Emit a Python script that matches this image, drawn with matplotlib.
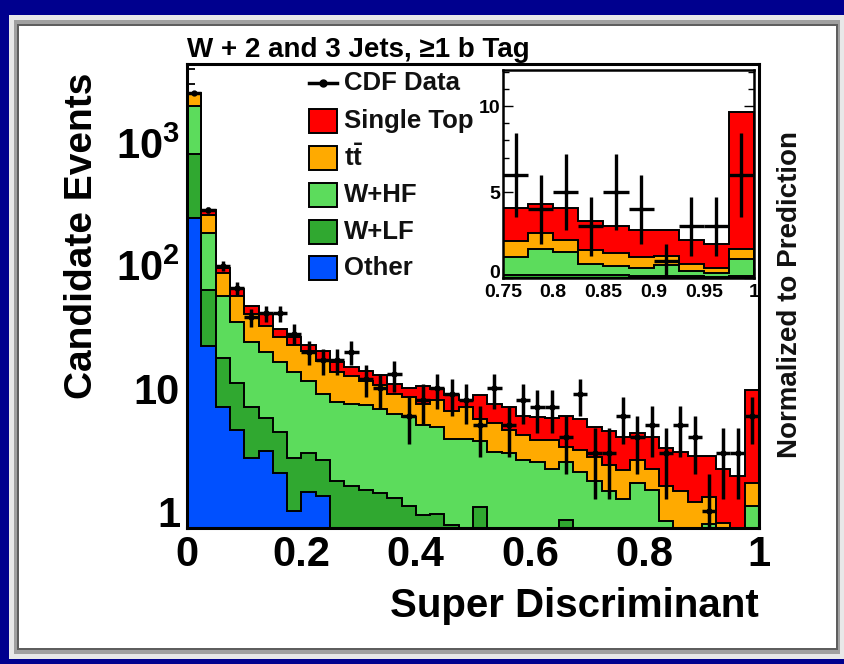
import numpy as np
import matplotlib
matplotlib.use("Agg")
import matplotlib.pyplot as plt
from matplotlib import font_manager
from matplotlib.patches import Rectangle
from matplotlib.lines import Line2D
from matplotlib.ticker import FixedLocator, FixedFormatter, NullFormatter

installed = {f.name for f in font_manager.fontManager.ttflist}
NARROW = 'Liberation Sans Narrow' if 'Liberation Sans Narrow' in installed else 'Liberation Sans'

plt.rcParams['font.family'] = ['Liberation Sans', 'DejaVu Sans']
plt.rcParams['font.weight'] = 'bold'
plt.rcParams['mathtext.fontset'] = 'custom'
plt.rcParams['mathtext.rm'] = NARROW + ':bold'
plt.rcParams['mathtext.bf'] = NARROW + ':bold'
plt.rcParams['mathtext.it'] = NARROW + ':bold'

# 40 bins of the super discriminant, width 0.025
bin_edges = np.linspace(0.0, 1.0, 41)

other = [246, 22, 7.0, 4.6, 2.7, 3.1, 2.05, 1.0, 1.43, 1.32,
         0, 0, 0, 0, 0, 0, 0, 0, 0, 0,
         0, 0, 0, 0, 0, 0, 0, 0, 0, 0,
         0, 0, 0, 0, 0, 0, 0, 0, 0, 0]
w_lf = [568, 41.7, 10.6, 6.4, 4.3, 2.7, 2.35, 1.7, 1.53, 1.28,
        1.75, 1.6, 1.5, 1.4, 1.28, 1.1, 0.93, 0.95, 0.77, 0.5,
        1.08, 0.45, 0.4, 0.35, 0.3, 0.3, 0.85, 0.25, 0.2, 0.2,
        0.2, 0.2, 0.15, 0.15, 0.15, 0.1, 0.1, 0.1, 0.05, 0.1]
w_hf = [1181, 122.3, 39.4, 24, 17, 14.2, 11.9, 10.8, 8.64, 6.4,
        5.95, 5.9, 5.8, 5.4, 4.92, 4.75, 4.07, 3.9, 3.13, 3.4,
        2.62, 2.58, 2.6, 2.25, 2.22, 1.92, 1.67, 1.85, 1.55, 1.25,
        1.05, 1.49, 1.34, 0.68, 0.57, 0.48, 0.68, 0.29, 0.24, 1.0]
ttbar = [525, 72, 31, 22, 16.3, 12.5, 9.8, 8.9, 8.7, 7.9,
         5.8, 5.2, 4.3, 3.8, 2.85, 2.65, 2.5, 3.15, 2.7, 3.15,
         1.9, 2.17, 1.55, 1.55, 1.26, 1.56, 0.81, 1.03, 1.01, 0.95,
         0.9, 0.91, 0.71, 0.77, 0.73, 0.62, 0.52, 0.41, 0.31, 0.6]
single_top = [40, 27, 8, 8, 6.7, 8.0, 4.4, 3.7, 2.1, 3.4,
              2.8, 2.2, 2.4, 2.2, 1.85, 1.6, 2.9, 1.9, 2.2, 0.95,
              3.2, 2.3, 2.5, 1.85, 2.07, 1.92, 2.67, 2.47, 2.14, 2.1,
              1.9, 1.7, 1.85, 1.7, 1.6, 1.6, 1.5, 1.4, 1.35, 7.95]
cdf_data = [2560, 285, 100, 66, 38, 41, 41, 28, 20, 17,
            17, 20, 12, 10, 13, 6, 8, 10, 9, 8,
            5, 10, 5, 8, 7, 7, 4, 9, 3, 3,
            6, 4, 5, 3, 5, 4, 1, 3, 3, 6]

y_major = [1, 10, 100, 1000]
y_major_labels = ['1', '10', r'10$^{2}$', r'10$^{3}$']
x_major = [0, 0.2, 0.4, 0.6, 0.8, 1.0]
x_major_labels = ['0', '0.2', '0.4', '0.6', '0.8', '1']
inset_x = [0.75, 0.8, 0.85, 0.9, 0.95, 1.0]
inset_x_labels = ['0.75', '0.8', '0.85', '0.9', '0.95', '1']
inset_y = [0, 5, 10]
inset_y_labels = ['0', '5', '10']

names = ['Single Top', r'$\mathrm{t}\bar{\mathrm{t}}$', 'W+HF', 'W+LF', 'Other']
colors = ['#ff0000', '#ffaa00', '#5cdc5c', '#30a830', '#0050ff']

W, H = 844.0, 664.0


def fbox(x0, y0, x1, y1):
    """pixel box (top-left origin) -> figure-fraction rect"""
    return [x0 / W, 1 - y1 / H, (x1 - x0) / W, (y1 - y0) / H]


fig = plt.figure(figsize=(W / 100, H / 100), dpi=100)
fig.patch.set_facecolor('#00008e')

# white slide panel with bevelled grey frame
for (x0, y0, x1, y1), c in [((9, 15, 844, 659), '#e8e8e8'),
                            ((14, 20, 840, 654), '#a0a0a0'),
                            ((17, 24, 838, 650), '#5e5e5e'),
                            ((19, 26, 836, 648), '#ffffff')]:
    r = fbox(x0, y0, x1, y1)
    fig.patches.append(Rectangle((r[0], r[1]), r[2], r[3], transform=fig.transFigure,
                                 facecolor=c, edgecolor='none', zorder=-10))

stack = [np.asarray(other, float)]
for comp in (w_lf, w_hf, ttbar, single_top):
    stack.append(stack[-1] + np.asarray(comp, float))
cum = stack[::-1]  # total first, then down to Other

centers = 0.5 * (bin_edges[:-1] + bin_edges[1:])
data = np.asarray(cdf_data, float)
err = np.sqrt(data)
err_lo = np.minimum(err, data - 1e-3)


def draw_stack(ax, floor):
    for level, col in zip(cum, colors):
        ax.stairs(np.maximum(level, floor), bin_edges, baseline=floor, fill=True,
                  facecolor=col, edgecolor='black', linewidth=1.4, zorder=2)


def draw_data(ax, lw, ms):
    ax.errorbar(centers, data, xerr=0.0125, yerr=[err_lo, err], fmt='o', color='black',
                ms=ms, elinewidth=lw, capsize=0, zorder=5)


# ---- main log-scale panel
ax = fig.add_axes(fbox(187, 64, 759, 528))
ax.set_yscale('log')
draw_stack(ax, 1e-3)
draw_data(ax, 2.5, 3.5)
ax.set_xlim(0, 1)
ax.set_ylim(0.73, 4400)
ax.xaxis.set_major_locator(FixedLocator(x_major))
ax.xaxis.set_major_formatter(FixedFormatter(x_major_labels))
ax.xaxis.set_minor_locator(FixedLocator(np.arange(0.05, 1.0, 0.05)))
ax.yaxis.set_major_locator(FixedLocator(y_major))
ax.yaxis.set_major_formatter(FixedFormatter(y_major_labels))
ax.yaxis.set_minor_locator(FixedLocator([m * 10.0 ** e for e in range(-1, 4) for m in range(2, 10)]))
ax.yaxis.set_minor_formatter(NullFormatter())
ax.tick_params(which='both', direction='in', width=1.3, color='black')
ax.tick_params(which='major', length=11, labelsize=30, pad=5)
ax.tick_params(which='minor', length=6)
for s in ax.spines.values():
    s.set_linewidth(2.2)
for lab in ax.get_xticklabels() + ax.get_yticklabels():
    lab.set_fontweight('bold')
    lab.set_fontfamily([NARROW, 'Liberation Sans'])

ax.set_ylabel('Candidate Events', fontsize=28, fontweight='bold')
ax.yaxis.set_label_coords(-0.152, 0.63)
ax.set_xlabel('Super Discriminant', fontsize=29, fontweight='bold')
ax.xaxis.set_label_coords(1.0, -0.128)
ax.xaxis.label.set_horizontalalignment('right')
ax.set_title(u'W + 2 and 3 Jets, \u22651 b Tag', fontsize=20, fontweight='bold',
             loc='left', pad=5)

# legend
fig.lines.append(Line2D([309 / W, 337 / W], [1 - 83 / H] * 2, transform=fig.transFigure,
                        color='black', lw=2.5, zorder=6))
fig.lines.append(Line2D([323 / W], [1 - 83 / H], transform=fig.transFigure,
                        color='black', marker='o', ms=5, zorder=6))
fig.text(344 / W, 1 - 83 / H, 'CDF Data', fontsize=18.5, fontweight='bold', va='center',
         ha='left', color='#111111')
rows_y = [121, 158, 195, 232, 268]
for yc, name, col in zip(rows_y, names, colors):
    r = fbox(309, yc - 12, 337, yc + 12)
    fig.patches.append(Rectangle((r[0], r[1]), r[2], r[3], transform=fig.transFigure,
                                 facecolor=col, edgecolor='black', lw=1.4, zorder=6))
    fig.text(344 / W, 1 - yc / H, name, fontsize=18.5, fontweight='bold', va='center',
             ha='left', color='#111111')

# ---- inset: linear view of the last ten bins
ax2 = fig.add_axes(fbox(503, 70, 754, 278))
draw_stack(ax2, 0.0)
draw_data(ax2, 2.4, 2.5)
ax2.set_xlim(0.75, 1.0)
ax2.set_ylim(0, 12.1)
ax2.xaxis.set_major_locator(FixedLocator(inset_x))
ax2.xaxis.set_major_formatter(FixedFormatter(inset_x_labels))
ax2.xaxis.set_minor_locator(FixedLocator(np.arange(0.76, 1.0, 0.01)))
ax2.yaxis.set_major_locator(FixedLocator(inset_y))
ax2.yaxis.set_major_formatter(FixedFormatter(inset_y_labels))
ax2.yaxis.set_minor_locator(FixedLocator(range(1, 13)))
ax2.tick_params(which='both', direction='in', width=1.0, top=False, right=True)
ax2.tick_params(which='major', length=7, labelsize=14)
ax2.tick_params(axis='x', which='major', pad=4)
ax2.tick_params(axis='y', which='major', pad=2)
ax2.tick_params(which='minor', length=4)
for lab in ax2.get_xticklabels() + ax2.get_yticklabels():
    lab.set_fontweight('bold')
    lab.set_fontfamily([NARROW, 'Liberation Sans'])
ax2.get_yticklabels()[0].set_verticalalignment('baseline')
for s in ax2.spines.values():
    s.set_linewidth(1.8)

fig.text(790 / W, 1 - 295 / H, 'Normalized to Prediction', rotation=90, fontsize=20,
         fontweight='bold', ha='center', va='center', color='#111111')

fig.savefig('out.png', dpi=100, facecolor=fig.get_facecolor())
